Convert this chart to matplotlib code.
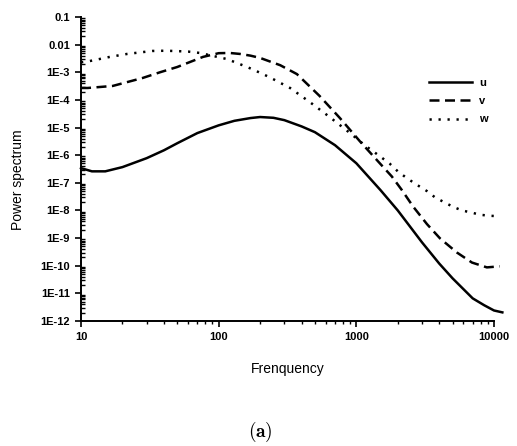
import numpy as np
import matplotlib.pyplot as plt
from matplotlib.ticker import LogLocator, NullFormatter

plt.rcParams['font.family'] = ['Liberation Sans', 'DejaVu Sans']
plt.rcParams['mathtext.fontset'] = 'cm'

# values (frequency, power spectrum)
freq_u = [10, 12, 15, 20, 30, 40, 50, 70, 100, 130, 170, 200, 250, 300, 400, 500, 700,
          1000, 1500, 2000, 3000, 4000, 5000, 7000, 8500, 10000, 11500]
power_u = [3.4e-7, 2.6e-7, 2.6e-7, 3.7e-7, 7.8e-7, 1.5e-6, 2.7e-6, 6.3e-6, 1.2e-5,
           1.75e-5, 2.2e-5, 2.4e-5, 2.25e-5, 1.85e-5, 1.1e-5, 6.8e-6, 2.3e-6, 5.1e-7,
           5.4e-8, 1.0e-8, 7.0e-10, 1.2e-10, 3.5e-11, 6.6e-12, 3.7e-12, 2.4e-12, 2.05e-12]

freq_v = [10, 11.2, 17, 28, 37.5, 50, 77, 100, 120, 143, 170, 200, 280, 370, 540, 760,
          1060, 1480, 1810, 2140, 2580, 3260, 4050, 5380, 6920, 8880, 11000]
power_v = [2.7e-4, 2.7e-4, 3.2e-4, 6.2e-4, 1.0e-3, 1.55e-3, 3.6e-3, 4.9e-3, 5.0e-3,
           4.6e-3, 4.0e-3, 3.3e-3, 1.8e-3, 8.6e-4, 1.4e-4, 2.2e-5, 3.2e-6, 5.1e-7,
           1.7e-7, 5.5e-8, 1.4e-8, 3.2e-9, 9.8e-10, 3.0e-10, 1.3e-10, 8.7e-11, 9.5e-11]

freq_w = [10, 11.6, 16.2, 21.6, 33, 40, 47, 60, 73, 91, 115, 161, 210, 248, 330, 460,
          640, 900, 1150, 1480, 1750, 2000, 2330, 2750, 3260, 3720, 4330, 5030, 5850,
          6920, 7900, 9340, 10900]
power_w = [2.3e-3, 2.55e-3, 3.6e-3, 4.6e-3, 5.9e-3, 6.0e-3, 5.9e-3, 5.6e-3, 5.0e-3,
           3.9e-3, 3.0e-3, 1.55e-3, 8.6e-4, 5.7e-4, 2.7e-4, 8.3e-5, 2.4e-5, 6.3e-6,
           2.3e-6, 9.2e-7, 4.9e-7, 2.6e-7, 1.47e-7, 8.5e-8, 5.0e-8, 3.0e-8, 2.0e-8,
           1.36e-8, 1.0e-8, 8.3e-9, 7.0e-9, 6.4e-9, 6.2e-9]

xticks = [10, 100, 1000, 10000]
xtick_labels = ['10', '100', '1000', '10000']
yticks = [1e-12, 1e-11, 1e-10, 1e-9, 1e-8, 1e-7, 1e-6, 1e-5, 1e-4, 1e-3, 1e-2, 1e-1]
ytick_labels = ['1E-12', '1E-11', '1E-10', '1E-9', '1E-8', '1E-7', '1E-6',
                '1E-5', '1E-4', '1E-3', '0.01', '0.1']

fig = plt.figure(figsize=(5.17, 4.46), dpi=100)
ax = fig.add_axes([0.1567, 0.2803, 0.7988, 0.6816])

ax.plot(freq_u, power_u, color='black', lw=1.8, label='u', clip_on=False)
ax.plot(freq_v, power_v, color='black', lw=1.8, dashes=(4, 2.2), label='v', clip_on=False)
ax.plot(freq_w, power_w, color='black', lw=1.8, dashes=(0.9, 2.7), label='w', clip_on=False)

ax.set_xscale('log')
ax.set_yscale('log')
ax.set_xlim(10, 10000)
ax.set_ylim(1e-12, 0.1)

ax.set_xticks(xticks)
ax.set_xticklabels(xtick_labels, fontsize=8, fontweight='bold')
ax.set_yticks(yticks)
ax.set_yticklabels(ytick_labels, fontsize=8, fontweight='bold')
ax.xaxis.set_minor_locator(LogLocator(base=10, subs=np.arange(2, 10), numticks=100))
ax.yaxis.set_minor_locator(LogLocator(base=10, subs=np.arange(2, 10), numticks=100))
ax.xaxis.set_minor_formatter(NullFormatter())
ax.yaxis.set_minor_formatter(NullFormatter())

ax.spines['top'].set_visible(False)
ax.spines['right'].set_visible(False)
ax.spines['left'].set_linewidth(1.4)
ax.spines['bottom'].set_linewidth(1.4)
ax.tick_params(axis='both', which='major', direction='out', length=4.5, width=1.2, pad=3.5)
ax.tick_params(axis='x', which='minor', direction='out', length=2.5, width=1.0)
ax.tick_params(axis='y', which='minor', direction='in', length=3, width=1.0)

ax.set_xlabel('Frenquency', fontsize=10, labelpad=14)
ax.set_ylabel('Power spectrum', fontsize=10)
ax.yaxis.set_label_coords(-0.136, 0.464)

ax.legend(loc='upper left', bbox_to_anchor=(0.8426, 0.80), frameon=False,
          handlelength=3.9, handletextpad=0.6, labelspacing=0.75,
          borderpad=0, borderaxespad=0,
          prop={'size': 8, 'weight': 'bold'})

fig.text(0.503, 0.032, r'$\mathbf{(a)}$', fontsize=14, ha='center', va='center')

fig.savefig('out.png', dpi=100)
